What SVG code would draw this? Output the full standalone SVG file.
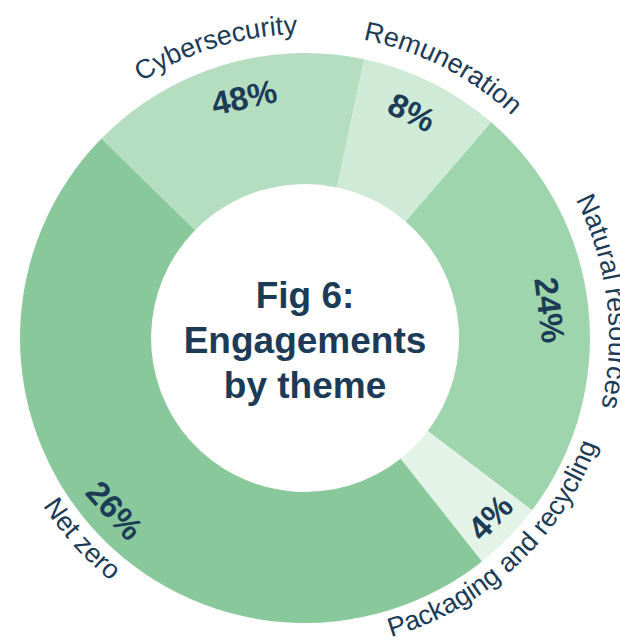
<svg xmlns="http://www.w3.org/2000/svg" width="620" height="643" viewBox="0 0 620 643">
<style>
.lbl{font-family:"Liberation Sans",Arial,sans-serif;font-size:27px;fill:#1c3b57}
.pct{font-family:"Liberation Sans",Arial,sans-serif;font-size:33px;font-weight:bold;fill:#1c3b57;text-anchor:middle}
.title{font-family:"Liberation Sans",Arial,sans-serif;font-size:37px;font-weight:bold;fill:#1c3b57;text-anchor:middle}
</style>
<defs>
<path id="pCyber" d="M3.3,375.1 A304,304 0 0 1 575.9,200.0"/>
<path id="pRemun" d="M62.2,155.1 A304,304 0 0 1 595.7,426.9"/>
<path id="pNat" d="M320.9,34.4 A304,304 0 0 1 393.9,628.7"/>
<path id="pPack" d="M117.8,586.4 A311,311 0 0 0 565.8,168.6"/>
<path id="pNet" d="M59.9,146.5 A311,311 0 0 0 469.8,601.7"/>
</defs>
<rect width="620" height="643" fill="#ffffff"/>
<g id="cybersecurity">
<path d="M101.4,138.6 A285,285 0 0 1 364.3,59.2 L337.0,187.4 A154,154 0 0 0 195.0,230.2 Z" fill="#b5dec1"/>
<text class="pct" transform="translate(244,97) rotate(-12)" dy="0.36em">48%</text>
<text class="lbl"><textPath href="#pCyber" startOffset="50%" text-anchor="middle">Cybersecurity</textPath></text>
</g>
<g id="remuneration">
<path d="M364.3,59.2 A285,285 0 0 1 491.2,122.3 L405.6,221.4 A154,154 0 0 0 337.0,187.4 Z" fill="#cfead6"/>
<text class="pct" transform="translate(412,112) rotate(26)" dy="0.36em">8%</text>
<text class="lbl"><textPath href="#pRemun" startOffset="50%" text-anchor="middle">Remuneration</textPath></text>
</g>
<g id="natural-resources">
<path d="M491.2,122.3 A285,285 0 0 1 532.0,510.3 L427.7,431.1 A154,154 0 0 0 405.6,221.4 Z" fill="#9ed5ad"/>
<text class="pct" transform="translate(550,310) rotate(83)" dy="0.36em">24%</text>
<text class="lbl"><textPath href="#pNat" startOffset="50%" text-anchor="middle">Natural resources</textPath></text>
</g>
<g id="packaging-and-recycling">
<path d="M532.0,510.3 A285,285 0 0 1 482.0,561.4 L400.6,458.7 A154,154 0 0 0 427.7,431.1 Z" fill="#e3f3e7"/>
<text class="pct" transform="translate(490,517) rotate(-46)" dy="0.36em">4%</text>
<text class="lbl"><textPath href="#pPack" startOffset="50%" text-anchor="middle">Packaging and recycling</textPath></text>
</g>
<g id="net-zero">
<path d="M482.0,561.4 A285,285 0 0 1 101.4,138.6 L195.0,230.2 A154,154 0 0 0 400.6,458.7 Z" fill="#89c89a"/>
<text class="pct" transform="translate(115,510) rotate(48)" dy="0.36em">26%</text>
<text class="lbl"><textPath href="#pNet" startOffset="50%" text-anchor="middle">Net zero</textPath></text>
</g>
<g id="title">
<text class="title" x="305" y="308">Fig 6:</text>
<text class="title" x="305" y="353">Engagements</text>
<text class="title" x="305" y="398">by theme</text>
</g>
<g id="connectors"/>
</svg>
